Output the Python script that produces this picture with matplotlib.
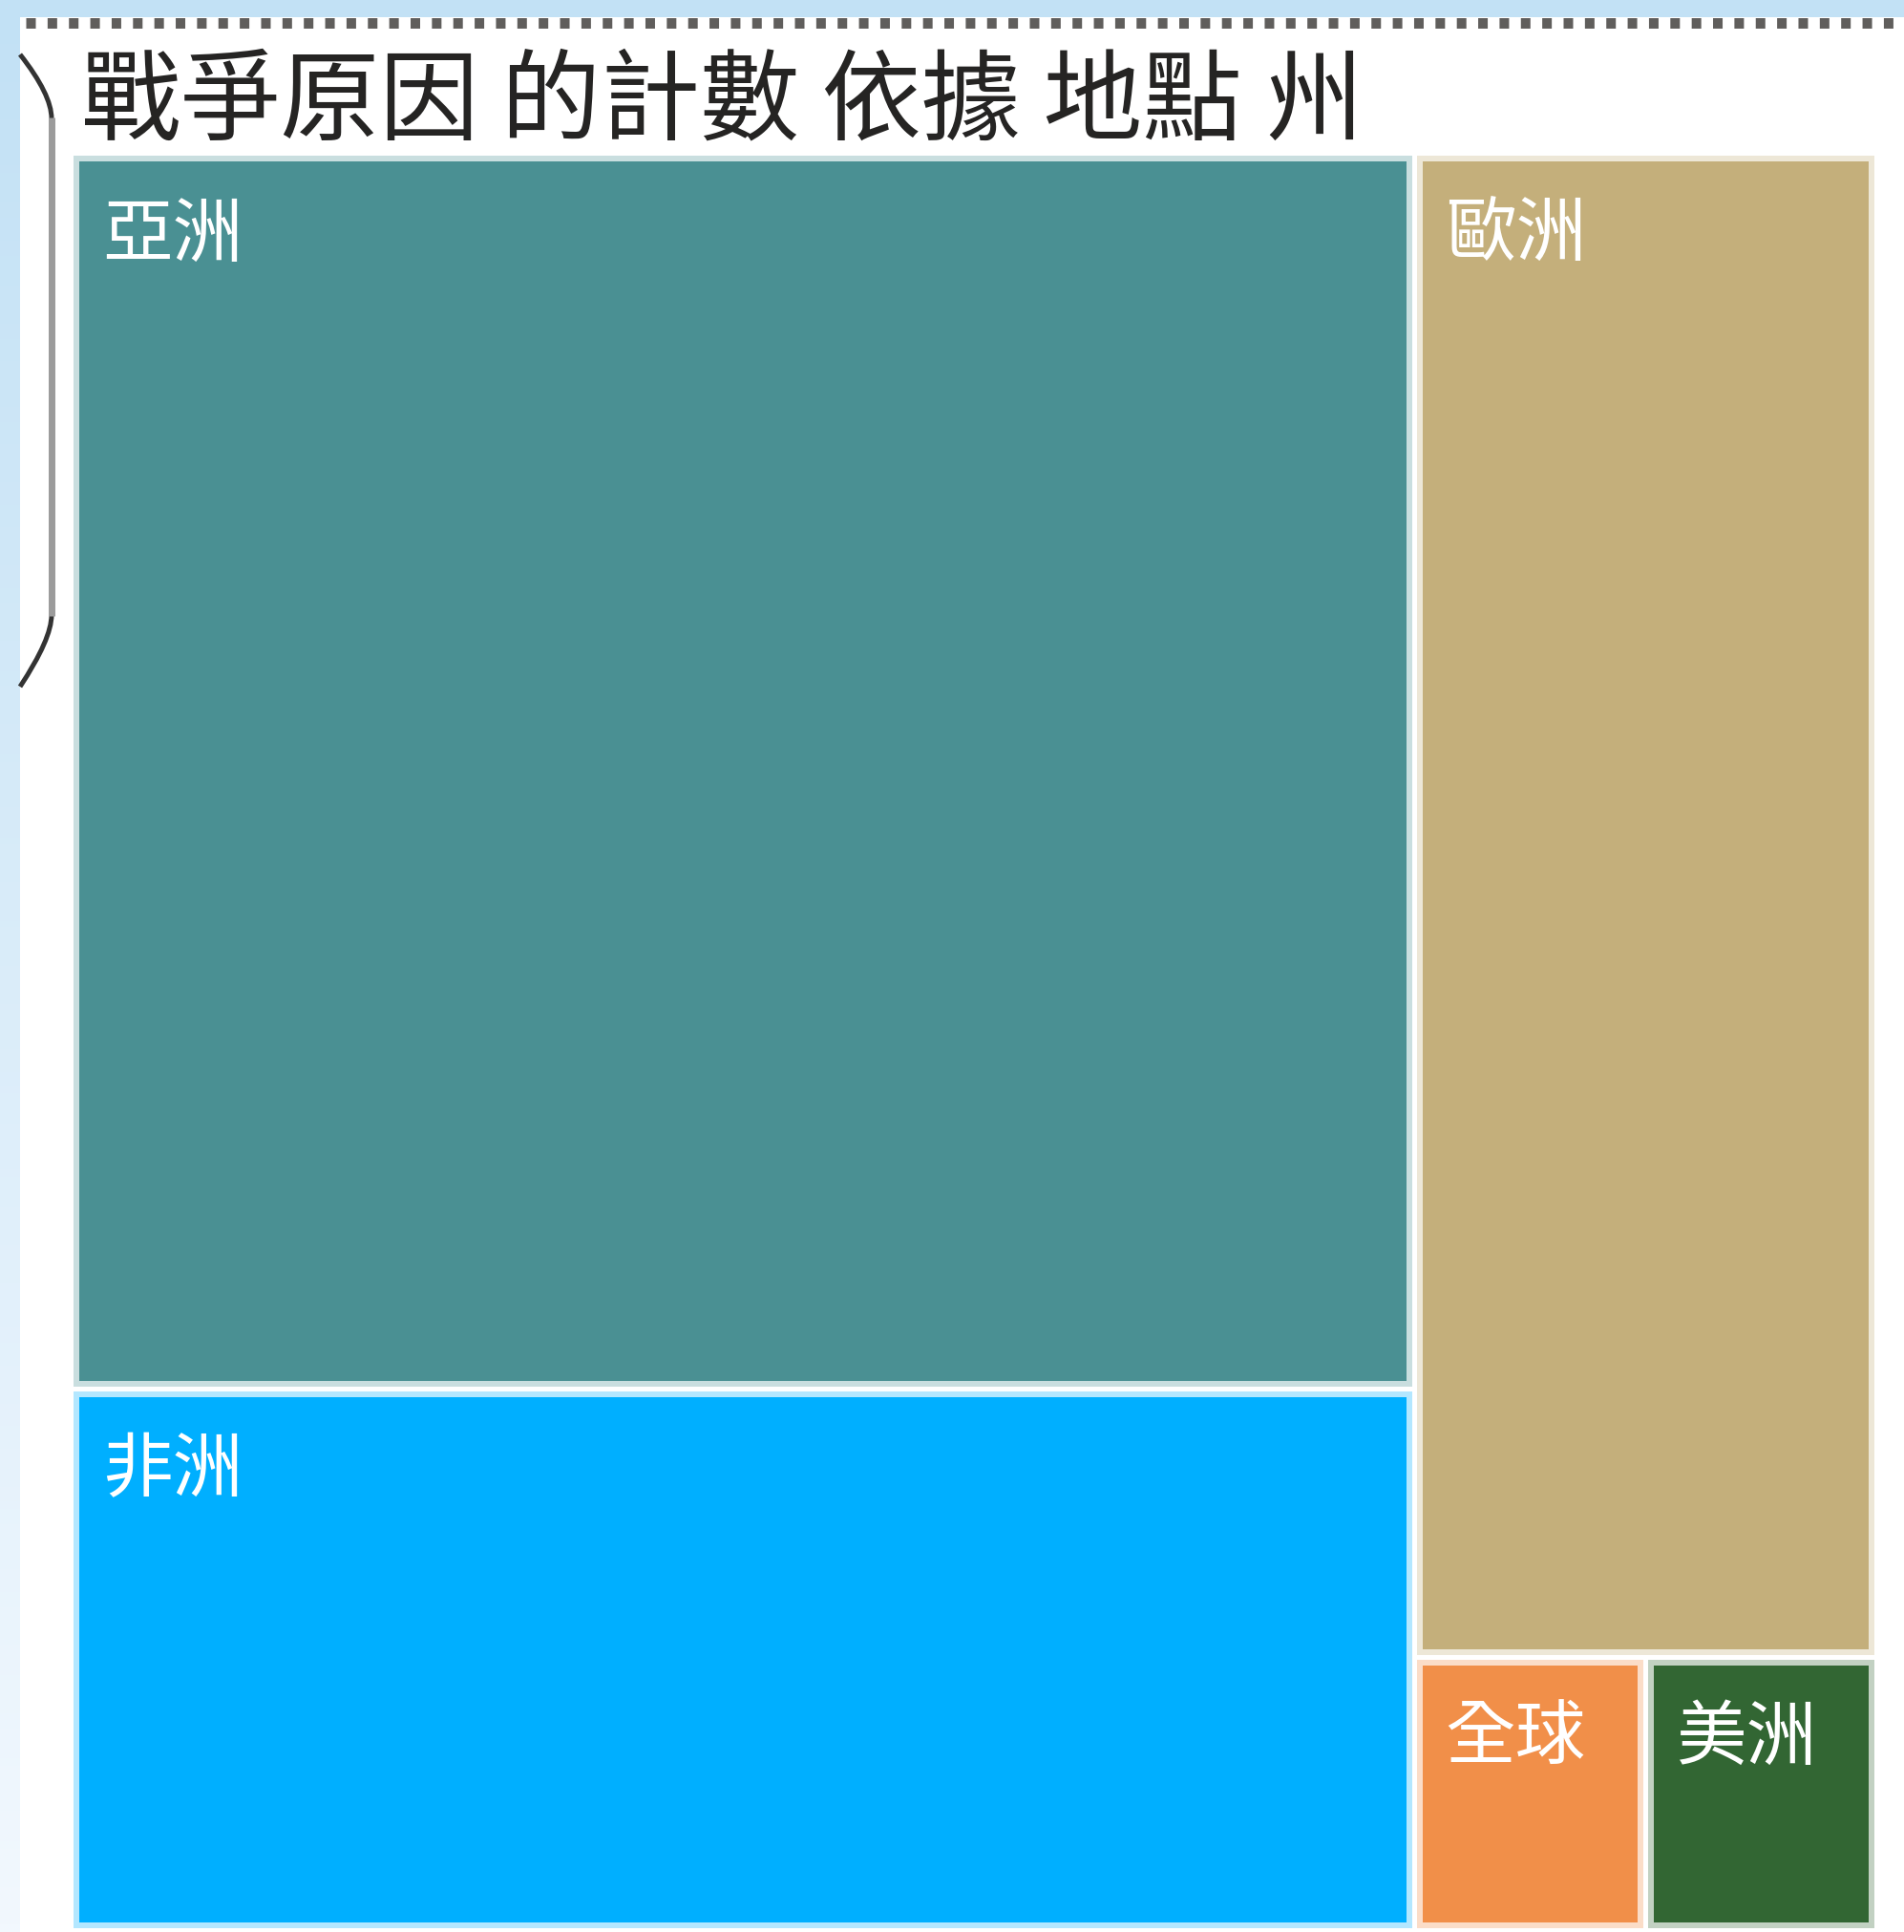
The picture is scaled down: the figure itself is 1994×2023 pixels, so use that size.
import numpy as np
import matplotlib
matplotlib.use("Agg")
import matplotlib.pyplot as plt
from matplotlib.patches import Rectangle, PathPatch
from matplotlib.path import Path
from matplotlib.colors import to_rgb

plt.rcParams['font.family'] = ['Noto Sans CJK TC', 'DejaVu Sans']
plt.rcParams['lines.scale_dashes'] = False

# data
title = '戰爭原因 的計數 依據 地點 州'
regions = ['亞洲', '非洲', '歐洲', '全球', '美洲']
counts = [105, 46, 44, 4, 4]
colors = ['#4A9093', '#00AFFF', '#C4AF7B', '#F18F49', '#326633']

W_PX, H_PX = 1994, 2024
fig = plt.figure(figsize=(W_PX / 100, H_PX / 100), dpi=100)

# background layer in pixel coordinates
bg = fig.add_axes([0, 0, 1, 1])
bg.set_xlim(0, W_PX)
bg.set_ylim(H_PX, 0)
bg.axis('off')

top = np.array(to_rgb('#c2e1f5'))
bot = np.array(to_rgb('#f2f8fe'))
t = np.linspace(0, 1, 256)[:, None, None]
grad = top * (1 - t) + bot * t
bg.imshow(grad, extent=(0, W_PX, H_PX, 0), aspect='auto', zorder=0)
bg.add_patch(Rectangle((21, 19), W_PX - 21, H_PX - 19, fc='white', lw=0, zorder=1))

# dotted focus border along the top
bg.plot([27, W_PX], [24.5, 24.5], color='#605E5C', lw=7.9,
        dashes=(7.2, 8.9), solid_capstyle='butt', dash_capstyle='butt', zorder=2)

# bracket on the left edge
for verts in ([(21, 58), (54, 100), (54, 125)], [(54, 645), (54, 670), (21, 720)]):
    bg.add_patch(PathPatch(Path(verts, [Path.MOVETO, Path.CURVE3, Path.CURVE3]),
                           fc='none', ec='#333333', lw=3.6, zorder=2))
bg.plot([54, 54], [124, 646], color='#9b9b9b', lw=5.0, solid_capstyle='butt', zorder=2)

bg.text(85, 55, title, fontsize=75, color='#252423', va='top', ha='left', zorder=3)

# treemap axes, one unit = one pixel
X0, Y0, X1, Y1 = 77, 164, 1968, 2025
ax = fig.add_axes([X0 / W_PX, (H_PX - Y1) / H_PX, (X1 - X0) / W_PX, (Y1 - Y0) / H_PX])
W, H = X1 - X0, Y1 - Y0
ax.set_xlim(0, W)
ax.set_ylim(H, 0)
ax.axis('off')
ax.patch.set_alpha(0)

total = sum(counts)
left = counts[0] + counts[1]
right = total - left
lw_ = W * left / total
bottom_row = counts[3] + counts[4]
eur_h = H * counts[2] / right
glb_w = (W - lw_) * counts[3] / bottom_row

cells = [
    (0, 0, lw_, H * counts[0] / left),
    (0, H * counts[0] / left, lw_, H * counts[1] / left),
    (lw_, 0, W - lw_, eur_h),
    (lw_, eur_h, glb_w, H - eur_h),
    (lw_ + glb_w, eur_h, W - lw_ - glb_w, H - eur_h),
]

GAP, B = 5, 6


def tint(c, k):
    c = np.array(to_rgb(c))
    return tuple(c * k + (1 - k))


for (x, y, w, h), name, col in zip(cells, regions, colors):
    ax.add_patch(Rectangle((x, y), w - GAP, h - GAP, fc=tint(col, 0.3), lw=0))
    ax.add_patch(Rectangle((x + B, y + B), w - GAP - 2 * B, h - GAP - 2 * B, fc=col, lw=0))
    ax.text(x + 30, y + 45, name, fontsize=53, color='white', va='top', ha='left')

fig.savefig('out.png', dpi=100)
